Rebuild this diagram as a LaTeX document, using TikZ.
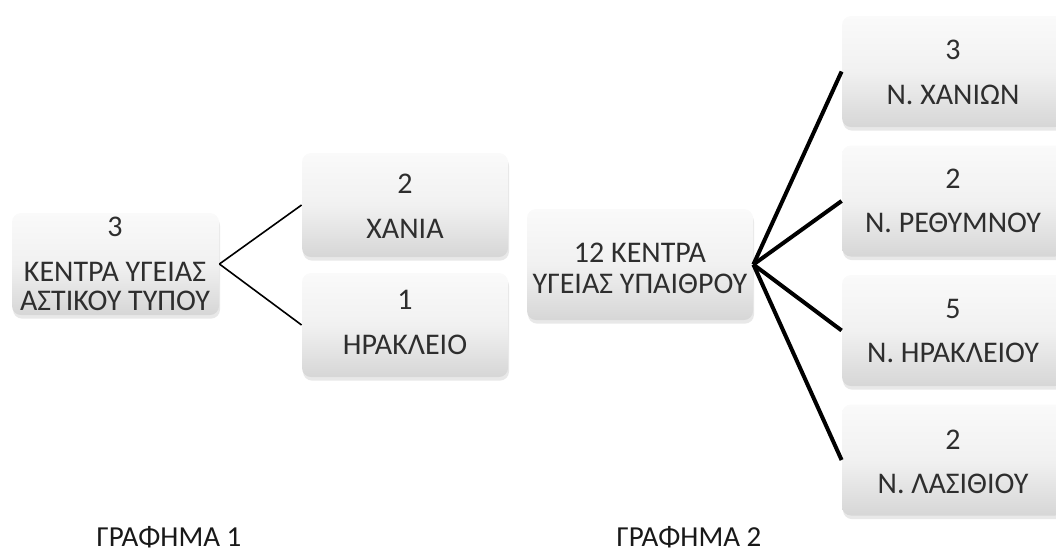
\documentclass[tikz,border=0pt]{standalone}
\usepackage{fontspec}
\setmainfont{Carlito}
\usetikzlibrary{shadows}
\begin{document}
\begin{tikzpicture}[x=0.5pt,y=-0.5pt,
  box/.style={draw=none, rounded corners=4.5pt, top color=gray!4, bottom color=gray!32, middle color=gray!11,
    drop shadow={opacity=0.18,shadow xshift=0.5pt,shadow yshift=-1.8pt}, inner sep=0pt},
  txt/.style={font=\fontsize{15}{18}\selectfont, text=black!82, inner sep=0pt},
  captxt/.style={font=\fontsize{14.5}{17}\selectfont, text=black!90, inner sep=0pt},
  thinline/.style={line width=0.8pt},
  thickline/.style={line width=2pt}]
\useasboundingbox (0,0) rectangle (1056,553);
\clip (0,0) rectangle (1056,553);
% boxes
\node[box, minimum width=103.5pt, minimum height=51pt] (nA) at (115.5,264) {};
\node[box, minimum width=103pt, minimum height=52pt] (nB) at (405,205) {};
\node[box, minimum width=103pt, minimum height=52pt] (nC) at (405,325) {};
\node[box, minimum width=113pt, minimum height=55.5pt] (nD) at (640,264.5) {};
\node[box, minimum width=111pt, minimum height=55.5pt] (nE) at (953,71.5) {};
\node[box, minimum width=111pt, minimum height=55.5pt] (nF) at (953,201) {};
\node[box, minimum width=111pt, minimum height=55.5pt] (nG) at (953,330.5) {};
\node[box, minimum width=111pt, minimum height=55.5pt] (nH) at (953,460) {};
% connectors
\draw[thinline] (nA.east) -- (nB.west);
\draw[thinline] (nA.east) -- (nC.west);
\draw[thickline] (nD.east) -- (nE.west);
\draw[thickline] (nD.east) -- (nF.west);
\draw[thickline] (nD.east) -- (nG.west);
\draw[thickline] (nD.east) -- (nH.west);
% texts
\node[txt] (tA1) at (115,227) {3};
\node[txt] (tA2) at (115,272) {ΚΕΝΤΡΑ ΥΓΕΙΑΣ};
\node[txt] (tA3) at (115,301) {ΑΣΤΙΚΟΥ ΤΥΠΟΥ};
\node[txt] (tB1) at (405,184) {2};
\node[txt] (tB2) at (405,229) {ΧΑΝΙΑ};
\node[txt] (tC1) at (405,300) {1};
\node[txt] (tC2) at (405,345) {ΗΡΑΚΛΕΙΟ};
\node[txt] (tD1) at (640,253) {12 ΚΕΝΤΡΑ};
\node[txt] (tD2) at (640,284) {ΥΓΕΙΑΣ ΥΠΑΙΘΡΟΥ};
\node[txt] (tE1) at (953,50) {3};
\node[txt] (tE2) at (953,95) {Ν. ΧΑΝΙΩΝ};
\node[txt] (tF1) at (953,179) {2};
\node[txt] (tF2) at (953,223) {Ν. ΡΕΘΥΜΝΟΥ};
\node[txt] (tG1) at (953,309) {5};
\node[txt] (tG2) at (953,353) {Ν. ΗΡΑΚΛΕΙΟΥ};
\node[txt] (tH1) at (953,440) {2};
\node[txt] (tH2) at (953,484) {Ν. ΛΑΣΙΘΙΟΥ};
\node[captxt] (g1) at (169,537) {ΓΡΑΦΗΜΑ 1};
\node[captxt] (g2) at (689,537) {ΓΡΑΦΗΜΑ 2};
\end{tikzpicture}
\end{document}
